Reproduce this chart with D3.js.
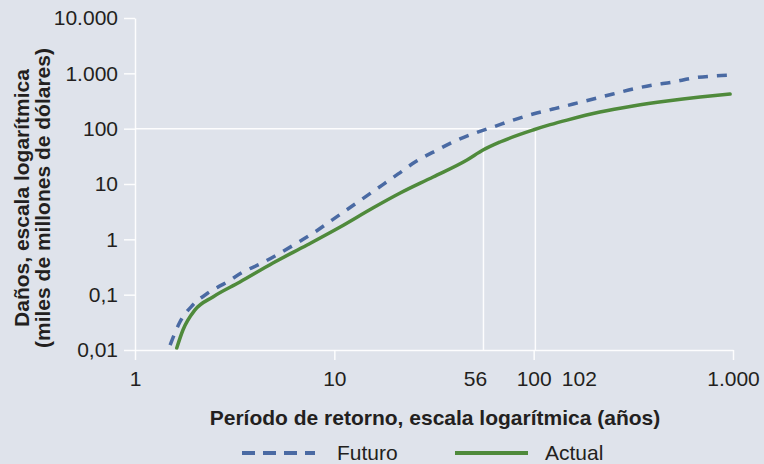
<!DOCTYPE html>
<html>
<head>
<meta charset="utf-8">
<script src="https://cdn.jsdelivr.net/npm/d3@7/dist/d3.min.js"></script>
<style>
  html, body { margin: 0; padding: 0; background: #dfe3eb; }
  svg { display: block; }
  text { font-family: "Liberation Sans", Arial, Helvetica, sans-serif; fill: #231f20; }
</style>
</head>
<body>
<svg id="chart" width="764" height="464"></svg>
<script>
// Return period (years) and damage (thousand million dollars)
const periodsFuturo = [1.50, 1.68, 1.95, 2.32, 2.89, 3.48, 4.34, 5.34, 6.50, 8.0, 9.73, 11.7, 14.6, 17.6, 20.9, 25.4, 32.8, 40.3, 50.8, 62.6, 78.8, 99.3, 125, 158, 199, 250, 315, 397, 500, 631, 794, 989];
const damageFuturo  = [0.0123, 0.032, 0.065, 0.107, 0.169, 0.256, 0.373, 0.566, 0.857, 1.36, 2.23, 3.54, 6.17, 9.86, 15.2, 24.9, 41.1, 59.8, 83.5, 107, 143, 184, 226, 279, 344, 423, 521, 615, 697, 824, 895, 933];

const periodsActual = [1.62, 1.74, 2.00, 2.46, 3.36, 4.92, 7.30, 10.7, 15.6, 21.4, 31.3, 46.3, 55.7, 67.8, 99.3, 121, 147, 215, 315, 467, 684, 967];
const damageActual  = [0.0109, 0.023, 0.053, 0.091, 0.169, 0.373, 0.79, 1.67, 3.68, 6.87, 13.4, 27.2, 41.1, 57.4, 94.6, 118, 143, 200, 257, 316, 373, 423];

const xTicks = [1, 10, 100, 1000];
const xTickLabels = ["1", "10", "100", "1.000"];
const yTicks = [0.01, 0.1, 1, 10, 100, 1000, 10000];
const yTickLabels = ["0,01", "0,1", "1", "10", "100", "1.000", "10.000"];

// Return periods at which each series reaches a damage of 100
const thresholdDamage = 100;
const markPeriods = [56, 102];
const markLabels = ["56", "102"];

const seriesNames = ["Futuro", "Actual"];

const svg = d3.select("#chart");
const x = d3.scaleLog().domain([1, 1000]).range([135, 733]);
const y = d3.scaleLog().domain([0.01, 10000]).range([350, 18]);

const white = "rgba(255,255,255,0.92)";

// Reference lines at damage = 100
const refs = svg.append("g").attr("stroke", white).attr("stroke-width", 1.5).attr("fill", "none");
refs.append("line")
  .attr("x1", x(1)).attr("x2", x(d3.max(markPeriods)))
  .attr("y1", y(thresholdDamage)).attr("y2", y(thresholdDamage));
markPeriods.forEach(p => {
  refs.append("line")
    .attr("x1", x(p)).attr("x2", x(p))
    .attr("y1", y(0.01)).attr("y2", y(thresholdDamage));
});

// Axes
const yAxis = d3.axisLeft(y).tickValues(yTicks)
  .tickFormat((d, i) => yTickLabels[i]).tickSize(11).tickSizeOuter(0).tickPadding(6);
const gy = svg.append("g").attr("transform", `translate(${x(1)},0)`).call(yAxis);

const xAxis = d3.axisBottom(x).tickValues(xTicks)
  .tickFormat((d, i) => xTickLabels[i]).tickSize(10).tickSizeOuter(0).tickPadding(11);
const gx = svg.append("g").attr("transform", `translate(0,${y(0.01)})`).call(xAxis);

[gx, gy].forEach(g => {
  g.select(".domain").attr("stroke", white).attr("stroke-width", 1.5);
  g.selectAll(".tick line").attr("stroke", white).attr("stroke-width", 1.5);
  g.selectAll(".tick text").attr("fill", "#231f20")
    .style("font-size", "21px").style("font-family", '"Liberation Sans", Arial, sans-serif');
});

// Labels for the threshold return periods, nudged clear of the "100" tick label
const markOffsets = [-8, 44];
gx.selectAll(".mark-label").data(markPeriods).join("text")
  .attr("class", "mark-label")
  .attr("x", (d, i) => x(d) + markOffsets[i])
  .attr("y", 21)
  .attr("dy", "0.71em")
  .attr("text-anchor", "middle")
  .style("font-size", "21px")
  .text((d, i) => markLabels[i]);

// Curves
const line = d3.line()
  .x(d => x(d[0]))
  .y(d => y(d[1]))
  .curve(d3.curveMonotoneX);

const futuro = periodsFuturo.map((p, i) => [p, damageFuturo[i]]);
const actual = periodsActual.map((p, i) => [p, damageActual[i]]);

svg.append("path").datum(actual)
  .attr("d", line)
  .attr("fill", "none")
  .attr("stroke", "#4f8a3b")
  .attr("stroke-width", 3.5)
  .attr("stroke-linecap", "round");

svg.append("path").datum(futuro)
  .attr("d", line)
  .attr("fill", "none")
  .attr("stroke", "#4a6aa3")
  .attr("stroke-width", 3.5)
  .attr("stroke-dasharray", "10,9");

// Axis titles
svg.append("text")
  .attr("x", 435).attr("y", 418)
  .attr("dy", "0.35em")
  .attr("text-anchor", "middle")
  .style("font-size", "21px").style("font-weight", "bold")
  .text("Período de retorno, escala logarítmica (años)");

const yTitle = svg.append("text")
  .attr("transform", "translate(22,198) rotate(-90)")
  .attr("text-anchor", "middle")
  .style("font-size", "21px").style("font-weight", "bold");
yTitle.append("tspan").attr("x", 0).attr("dy", "0.35em").text("Daños, escala logarítmica");
yTitle.append("tspan").attr("x", 0).attr("dy", "1.0em").text("(miles de millones de dólares)");

// Legend
const legendY = 453;
const legend = svg.append("g");
legend.append("line")
  .attr("x1", 242).attr("x2", 315).attr("y1", legendY).attr("y2", legendY)
  .attr("stroke", "#4a6aa3").attr("stroke-width", 4).attr("stroke-dasharray", "13,8");
legend.append("text").attr("x", 337).attr("y", legendY).attr("dy", "0.35em")
  .style("font-size", "21px").text(seriesNames[0]);
legend.append("line")
  .attr("x1", 455).attr("x2", 528).attr("y1", legendY).attr("y2", legendY)
  .attr("stroke", "#4f8a3b").attr("stroke-width", 4);
legend.append("text").attr("x", 545).attr("y", legendY).attr("dy", "0.35em")
  .style("font-size", "21px").text(seriesNames[1]);
</script>
</body>
</html>
